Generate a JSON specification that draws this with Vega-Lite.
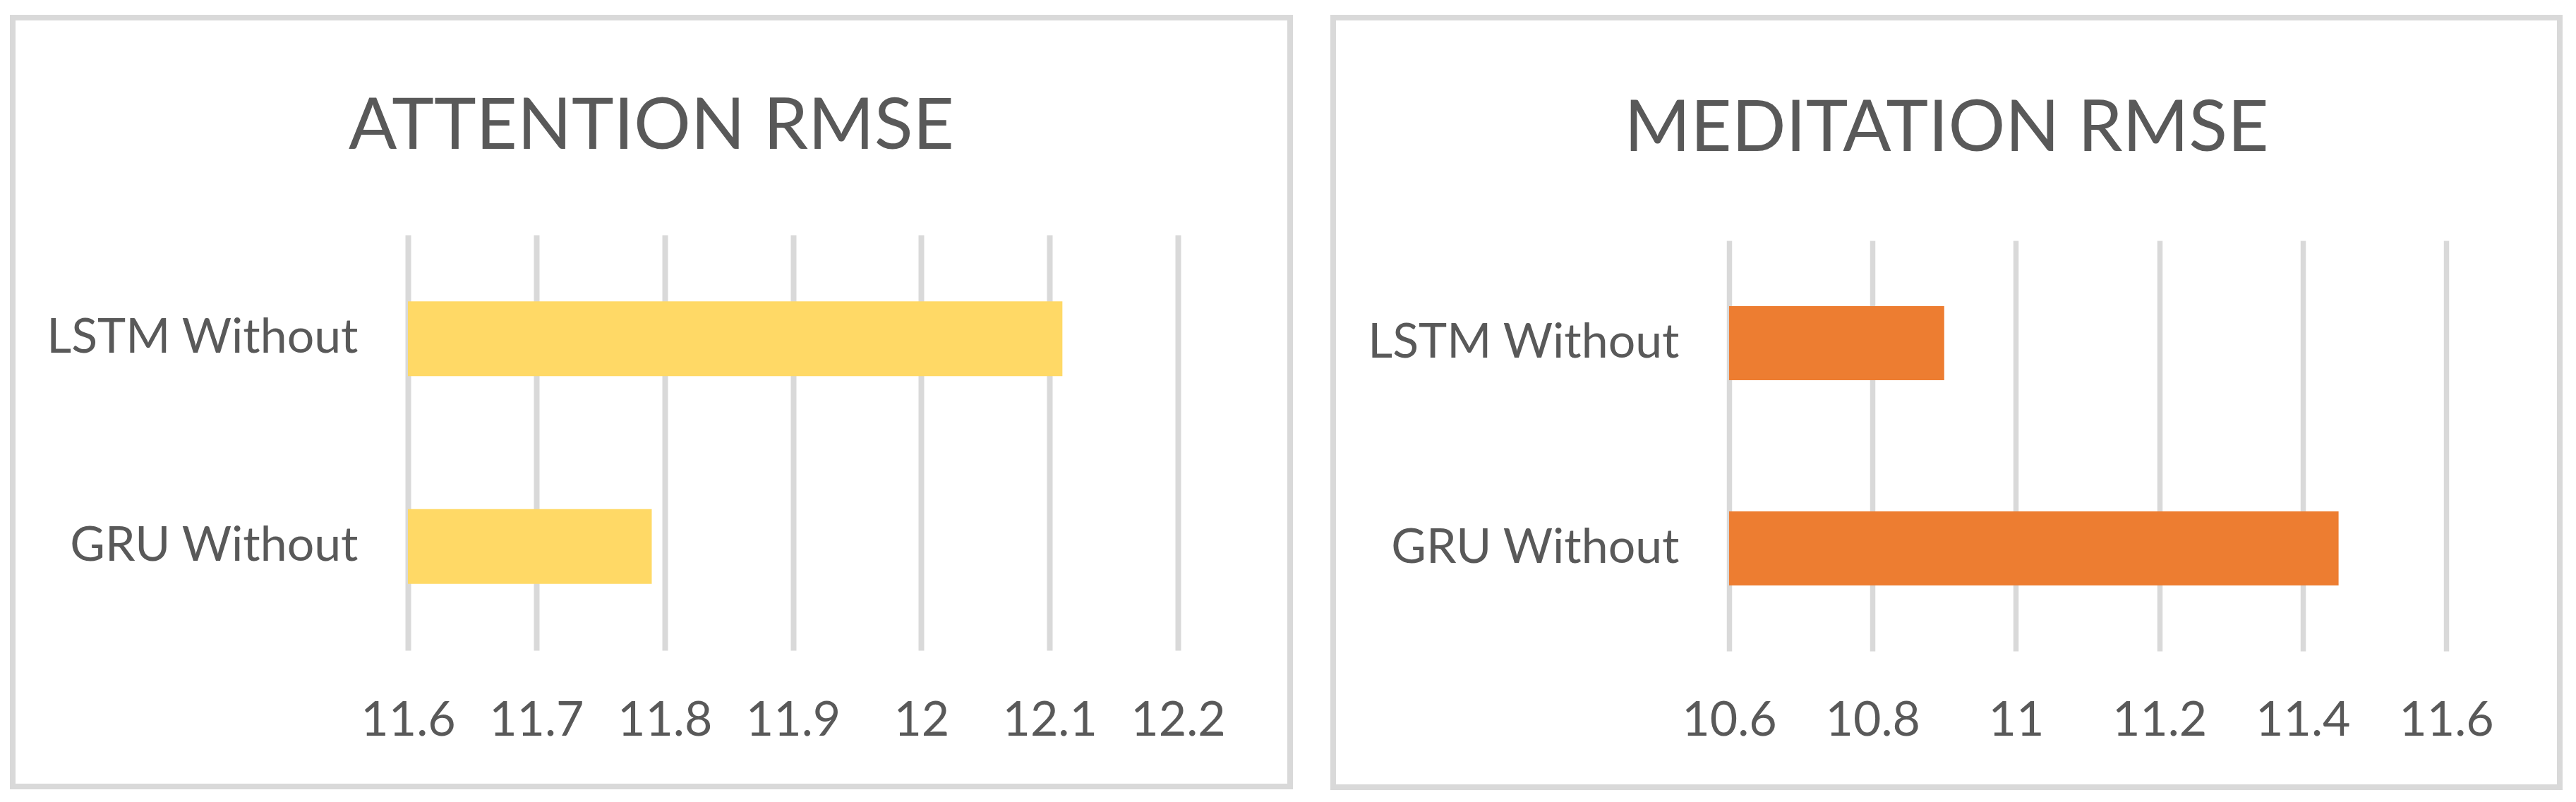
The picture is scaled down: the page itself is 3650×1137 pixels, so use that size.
{
  "$schema": "https://vega.github.io/schema/vega-lite/v6.json",
  "background": "white",
  "padding": {"left": 14, "top": 21, "right": 0, "bottom": 0},
  "spacing": 53,
  "config": {
    "view": {"stroke": "#d9d9d9", "strokeWidth": 8, "fill": "white"},
    "font": "Lato",
    "axis": {
      "domain": false,
      "ticks": false,
      "labelColor": "#595959",
      "labelFont": "Lato",
      "labelFontSize": 68,
      "labelPadding": 0,
      "labelLimit": 0,
      "labelOverlap": false,
      "labelFlush": false
    },
    "title": {
      "font": "Lato",
      "fontSize": 101,
      "fontWeight": "normal",
      "color": "#595959",
      "anchor": "middle",
      "frame": "group",
      "baseline": "alphabetic"
    }
  },
  "hconcat": [
    {
      "width": 1810,
      "height": 1090,
      "title": {"text": "ATTENTION RMSE", "offset": -207},
      "data": {"values": [
        {"model": "LSTM Without", "rmse": 12.11},
        {"model": "GRU Without", "rmse": 11.79}
      ]},
      "mark": {"type": "bar", "color": "#FFD966"},
      "encoding": {
        "y": {
          "field": "model", "type": "nominal", "sort": null, "title": null,
          "scale": {"range": [308, 897], "paddingInner": 0.64, "paddingOuter": 0.32},
          "axis": {"offset": -489, "grid": false}
        },
        "x": {
          "field": "rmse", "type": "quantitative", "title": null,
          "scale": {"domain": [11.6, 12.2], "range": [560, 1651], "nice": false, "zero": false},
          "axis": {
            "orient": "top",
            "values": [11.6, 11.7, 11.8, 11.9, 12, 12.1, 12.2],
            "format": "~g", "offset": -1017, "labelBaseline": "alphabetic",
            "grid": true, "gridColor": "#d9d9d9", "gridWidth": 8
          }
        },
        "x2": {"datum": 11.6}
      }
    },
    {
      "width": 1738,
      "height": 1091,
      "title": {"text": "MEDITATION RMSE", "offset": -210},
      "data": {"values": [
        {"model": "LSTM Without", "rmse": 10.90},
        {"model": "GRU Without", "rmse": 11.45}
      ]},
      "mark": {"type": "bar", "color": "#ED7D31"},
      "encoding": {
        "y": {
          "field": "model", "type": "nominal", "sort": null, "title": null,
          "scale": {"range": [316, 898], "paddingInner": 0.64, "paddingOuter": 0.32},
          "axis": {"offset": -490, "grid": false}
        },
        "x": {
          "field": "rmse", "type": "quantitative", "title": null,
          "scale": {"domain": [10.6, 11.6], "range": [561, 1577], "nice": false, "zero": false},
          "axis": {
            "orient": "top",
            "values": [10.6, 10.8, 11, 11.2, 11.4, 11.6],
            "format": "~g", "offset": -1017, "labelBaseline": "alphabetic",
            "grid": true, "gridColor": "#d9d9d9", "gridWidth": 7.5
          }
        },
        "x2": {"datum": 10.6}
      }
    }
  ]
}
